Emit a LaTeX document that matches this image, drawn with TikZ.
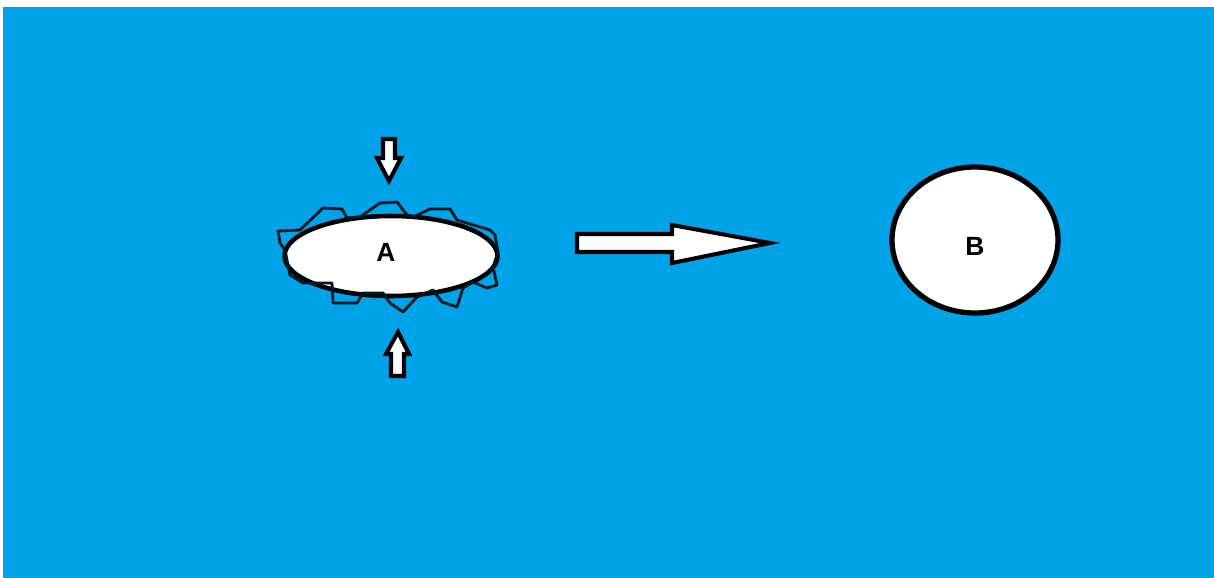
\documentclass[tikz,border=0pt]{standalone}
\usepackage{fontspec}
\setmainfont{Liberation Sans}
\usepackage{tikz}
\usetikzlibrary{shapes.geometric}
\definecolor{paintblue}{HTML}{00A2E8}

\begin{document}
\begin{tikzpicture}[
  x=0.02cm, y=-0.02cm,
  blob/.style={
    ellipse,
    draw=black,
    fill=white,
    inner sep=0pt
  },
  blocklabel/.style={
    font=\fontsize{15}{17}\selectfont\bfseries,
    text=black,
    inner sep=0pt
  },
  blockarrow/.style={
    draw=black,
    fill=white,
    line width=2.3pt,
    line join=miter
  },
  wobble/.style={
    draw=black!85!paintblue,
    line width=1.6pt,
    line join=round
  }
]

  % Background: white page with the blue canvas
  \useasboundingbox (0,0) rectangle (1214,578);
  \fill[paintblue] (3,7) rectangle (1214,578);

  % --- Squeezed body A ---
  \node[blob, line width=2.6pt, minimum width=4.26cm, minimum height=1.6cm] (a) at (391,256) {};
  \draw[wobble] (278,231) -- (300,230) -- (323,208) -- (342,209) -- (347,218) -- (360,217)
    -- (380,203) -- (397,202) -- (407,215) -- (413,217) -- (430,209) -- (450,209)
    -- (457,220) -- (490,230) -- (495,235) -- (498,252) -- (493,267) -- (497,285)
    -- (487,288) -- (473,282) -- (463,288) -- (457,307) -- (442,302) -- (433,290)
    -- (417,297) -- (403,312) -- (390,303) -- (383,293) -- (363,293) -- (357,303)
    -- (333,303) -- (332,283) -- (303,283) -- (290,275) -- (285,250) -- (280,243) -- cycle;
  \node[blocklabel] (labA) at (386,252) {A};

  % Compressing arrows above and below A
  \coordinate (topin) at (389,181);
  \coordinate (botin) at (398,332);
  \draw[blockarrow] (topin) -- ++(12,-23) -- ++(-6,0) -- ++(0,-19) -- ++(-12,0) -- ++(0,19) -- ++(-6,0) -- cycle;
  \draw[blockarrow] (botin) -- ++(11,22) -- ++(-5,0) -- ++(0,22) -- ++(-13,0) -- ++(0,-22) -- ++(-5,0) -- cycle;

  % --- Relaxed body B ---
  \node[blob, line width=3pt, minimum width=3.32cm, minimum height=2.92cm] (b) at (975,240) {};
  \node[blocklabel] (labB) at (975,246) {B};

  % Transition arrow from A to B
  \coordinate (tip) at (770,243);
  \draw[blockarrow] (tip) -- (672,263) -- (672,252) -- (577,252) -- (577,234) -- (672,234) -- (672,225) -- cycle;

\end{tikzpicture}
\end{document}
